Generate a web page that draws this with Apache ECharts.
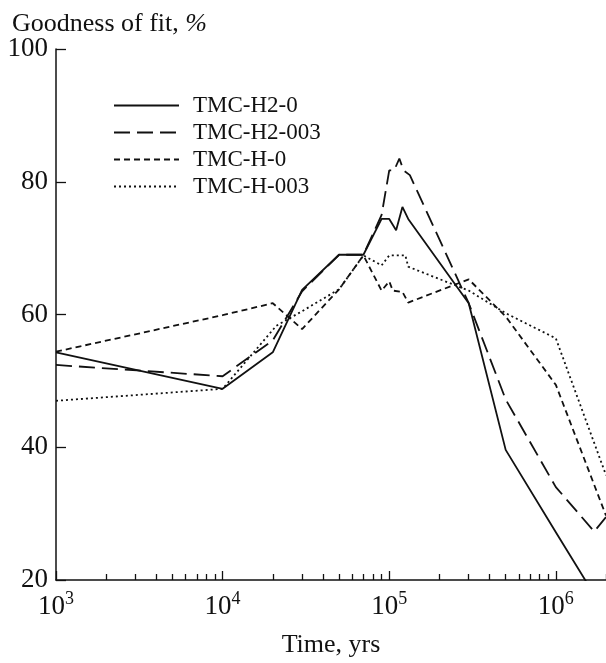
<!DOCTYPE html>
<html>
<head>
<meta charset="utf-8">
<script src="https://cdn.jsdelivr.net/npm/echarts@6/dist/echarts.min.js"></script>
<style>
html,body{margin:0;padding:0;background:#fff;}
#chart{width:606px;height:663px;}
</style>
</head>
<body>
<div id="chart"></div>
<script>
// ---- data ----
const seriesNames = ['TMC-H2-0', 'TMC-H2-003', 'TMC-H-0', 'TMC-H-003'];

const timeH2_0  = [1e3, 1e4, 2e4, 3e4, 5e4, 7e4, 9e4, 1e5, 1.1e5, 1.2e5, 1.3e5, 3e5, 5e5, 1e6, 2e6];
const fitH2_0   = [54.3, 48.8, 54.3, 63.7, 69.0, 69.0, 74.4, 74.4, 72.7, 76.2, 74.4, 61.7, 39.6, 27.2, 14.9];

const timeH2_003 = [1e3, 1e4, 2e4, 3e4, 5e4, 7e4, 9e4, 1e5, 1.07e5, 1.15e5, 1.22e5, 1.33e5, 3e5, 5e5, 1e6, 1.7e6, 2e6];
const fitH2_003  = [52.4, 50.7, 56.1, 63.5, 69.0, 69.0, 75.0, 81.7, 81.7, 83.5, 81.7, 81.0, 61.7, 47.2, 34.0, 27.3, 29.5];

const timeH_0 = [1e3, 1e4, 2e4, 3e4, 5e4, 7e4, 9e4, 1e5, 1.05e5, 1.2e5, 1.3e5, 3e5, 5e5, 1e6, 2e6];
const fitH_0  = [54.4, 59.9, 61.7, 57.8, 63.8, 68.9, 63.6, 65.0, 63.6, 63.4, 61.8, 65.3, 59.7, 49.4, 29.7];

const timeH_003 = [1e3, 1e4, 2.1e4, 3e4, 5e4, 7e4, 9e4, 1e5, 1.25e5, 1.3e5, 3e5, 5e5, 1e6, 2e6];
const fitH_003  = [47.0, 48.8, 58.3, 60.5, 63.8, 68.9, 67.4, 68.9, 68.9, 67.2, 63.6, 60.2, 56.4, 35.8];

const majorTicks = [1e3, 1e4, 1e5, 1e6];
const minorTicks = [2e3,3e3,4e3,5e3,6e3,7e3,8e3,9e3, 2e4,3e4,4e4,5e4,6e4,7e4,8e4,9e4, 2e5,3e5,4e5,5e5,6e5,7e5,8e5,9e5, 2e6];
const yTicks = [20, 40, 60, 80, 100];

const xTitle = 'Time, yrs';
const yTitle = 'Goodness of fit, ';

// ---- chart ----
const FONT = 'Liberation Serif';
const INK = '#111';
function pairs(t, v) { return t.map((x, i) => [x, v[i]]); }

const chart = echarts.init(document.getElementById('chart'), null, {renderer: 'canvas'});

const lineStyles = [
  {type: 'solid', width: 1.8},
  {type: [16, 7], width: 1.8},
  {type: [6, 4], width: 1.8},
  {type: [2, 3], width: 1.8}
];
const datasets = [pairs(timeH2_0, fitH2_0), pairs(timeH2_003, fitH2_003), pairs(timeH_0, fitH_0), pairs(timeH_003, fitH_003)];

const option = {
  animation: false,
  backgroundColor: '#fff',
  title: {
    text: '{n|' + yTitle + '}{i|%}',
    left: 12, top: 11, padding: 0,
    textStyle: {
      fontFamily: FONT, fontSize: 26, fontWeight: 'normal', color: INK,
      rich: {
        n: {fontFamily: FONT, fontSize: 26, color: INK},
        i: {fontFamily: FONT, fontSize: 26, color: INK, fontStyle: 'italic'}
      }
    }
  },
  legend: {
    orient: 'vertical',
    left: 113, top: 92, padding: 0,
    itemWidth: 65, itemHeight: 14, itemGap: 0,
    data: seriesNames,
    itemStyle: {opacity: 0},
    textStyle: {fontFamily: FONT, fontSize: 23, color: INK, lineHeight: 27, padding: [0, 0, 0, 9]}
  },
  grid: {left: 56, top: 49, width: 557, height: 555, containLabel: false},
  xAxis: [{
    type: 'log', logBase: 10, min: 1e3, max: 2e6,
    position: 'bottom',
    name: xTitle, nameLocation: 'middle', nameGap: 52,
    nameTextStyle: {fontFamily: FONT, fontSize: 26, color: INK},
    axisLine: {show: true, lineStyle: {color: INK, width: 1.5}},
    axisTick: {show: true, inside: true, length: 9, customValues: majorTicks, lineStyle: {color: INK, width: 1.3}},
    splitLine: {show: false},
    minorTick: {show: false},
    axisLabel: {
      customValues: majorTicks,
      margin: 10,
      formatter: v => '{b|10}{s|' + Math.round(Math.log10(v)) + '}',
      rich: {
        b: {fontFamily: FONT, fontSize: 27, color: INK, lineHeight: 30, verticalAlign: 'bottom'},
        s: {fontFamily: FONT, fontSize: 18, color: INK, lineHeight: 30, verticalAlign: 'top'}
      }
    }
  }, {
    type: 'log', logBase: 10, min: 1e3, max: 2e6,
    position: 'bottom', gridIndex: 0,
    axisLine: {show: false},
    axisTick: {show: true, inside: true, length: 6, customValues: minorTicks, lineStyle: {color: INK, width: 1.3}},
    axisLabel: {show: false},
    splitLine: {show: false}
  }],
  yAxis: {
    type: 'value', min: 20, max: 100, interval: 20,
    axisLine: {show: true, lineStyle: {color: INK, width: 1.5}},
    axisTick: {show: true, inside: true, length: 10, lineStyle: {color: INK, width: 1.3}},
    splitLine: {show: false},
    axisLabel: {
      margin: 8, fontFamily: FONT, fontSize: 27, color: INK,
      customValues: yTicks
    }
  },
  series: seriesNames.map((name, i) => ({
    name: name,
    type: 'line',
    xAxisIndex: 0,
    data: datasets[i],
    symbol: 'none',
    clip: true,
    color: INK,
    lineStyle: Object.assign({color: INK}, lineStyles[i])
  }))
};
chart.setOption(option);
</script>
</body>
</html>
